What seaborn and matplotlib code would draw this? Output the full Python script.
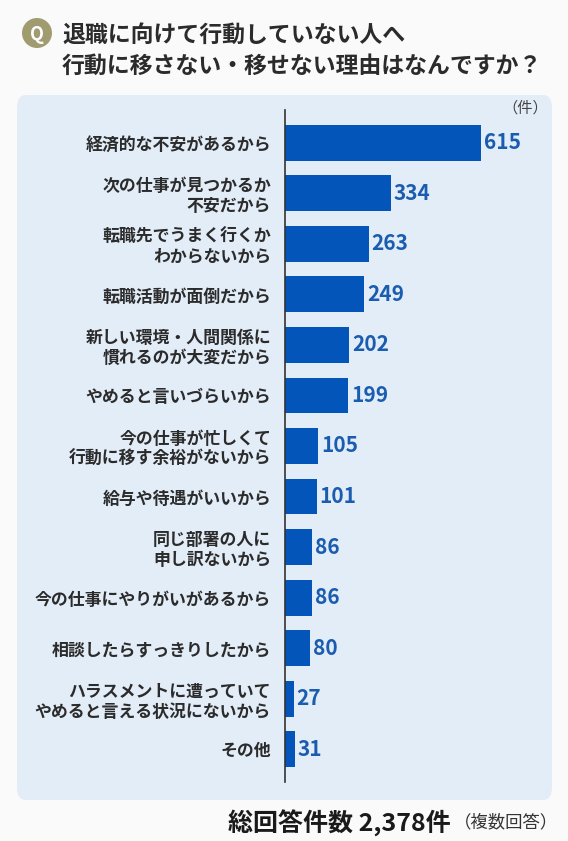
import numpy as np
import pandas as pd
import matplotlib.pyplot as plt
from matplotlib.patches import FancyBboxPatch, Ellipse
import seaborn as sns

# データ
reasons = [
    '経済的な不安があるから',
    '次の仕事が見つかるか\n不安だから',
    '転職先でうまく行くか\nわからないから',
    '転職活動が面倒だから',
    '新しい環境・人間関係に\n慣れるのが大変だから',
    'やめると言いづらいから',
    '今の仕事が忙しくて\n行動に移す余裕がないから',
    '給与や待遇がいいから',
    '同じ部署の人に\n申し訳ないから',
    '今の仕事にやりがいがあるから',
    '相談したらすっきりしたから',
    'ハラスメントに遭っていて\nやめると言える状況にないから',
    'その他',
]
counts = [615, 334, 263, 249, 202, 199, 105, 101, 86, 86, 80, 27, 31]

title_lines = '退職に向けて行動していない人へ\n行動に移さない・移せない理由はなんですか？'
total_text = '総回答件数 2,378件'
note_text = '（複数回答）'

sns.set_theme(style='white')
plt.rcParams['font.family'] = ['Noto Sans CJK JP', 'DejaVu Sans']

bar_color = '#0455b9'
panel_color = '#e3edf8'
text_color = '#2b2b2b'

df = pd.DataFrame({'reason': reasons, 'count': counts})

W, H = 568, 841
fig = plt.figure(figsize=(W / 100, H / 100), dpi=100)
fig.patch.set_facecolor('#fafafa')

# 背景パネル
panel = FancyBboxPatch((17 / W, (H - 800) / H), 535 / W, 705 / H,
                       boxstyle='round,pad=0,rounding_size=0.015',
                       transform=fig.transFigure, facecolor=panel_color,
                       edgecolor='none', zorder=-5)
fig.patches.append(panel)

# Qマーク
fig.patches.append(Ellipse((37 / W, (H - 33) / H), 30 / W, 30 / H,
                           transform=fig.transFigure,
                           facecolor='#a19b70', edgecolor='none'))
fig.text(37 / W, (H - 34) / H, 'Q', color='white', fontsize=13, fontweight='bold',
         ha='center', va='center')
fig.text(62 / W, (H - 51) / H, title_lines, color=text_color, fontsize=16.5,
         fontweight='bold', ha='left', va='center', linespacing=1.45)

ax = fig.add_axes([285 / W, (H - 782) / H, 260 / W, 672 / H])
ax.set_zorder(2)
ax.set_facecolor('none')
sns.barplot(data=df, x='count', y='reason', color=bar_color, saturation=1,
            width=0.71, linewidth=0, ax=ax, orient='h')
ax.set_xlim(0, 260 / 0.3187)
ax.set_ylim(len(reasons) - 0.35, -0.65)
ax.set_xlabel('')
ax.set_ylabel('')
ax.set_xticks([])
ax.tick_params(axis='y', length=0, pad=10, labelsize=12.2, labelcolor=text_color)
for lab in ax.get_yticklabels():
    lab.set_fontweight('semibold')
    lab.set_linespacing(1.15)
for s in ['top', 'right', 'bottom']:
    ax.spines[s].set_visible(False)
ax.spines['left'].set_color('#333333')
ax.spines['left'].set_linewidth(1.2)

for i, v in enumerate(counts):
    ax.text(v + 8, i, str(v), color='#1a5cb0', fontsize=15, fontweight='bold',
            ha='left', va='center')

fig.text(548 / W, (H - 108) / H, '（件）', color='#444444', fontsize=11,
         ha='right', va='center')

fig.text(451 / W, (H - 823) / H, total_text, color='#1a1a1a', fontsize=18,
         fontweight='bold', ha='right', va='center')
fig.text(454 / W, (H - 822) / H, note_text, color='#333333', fontsize=12.5,
         ha='left', va='center')

fig.savefig('out.png', dpi=100, facecolor=fig.get_facecolor())
